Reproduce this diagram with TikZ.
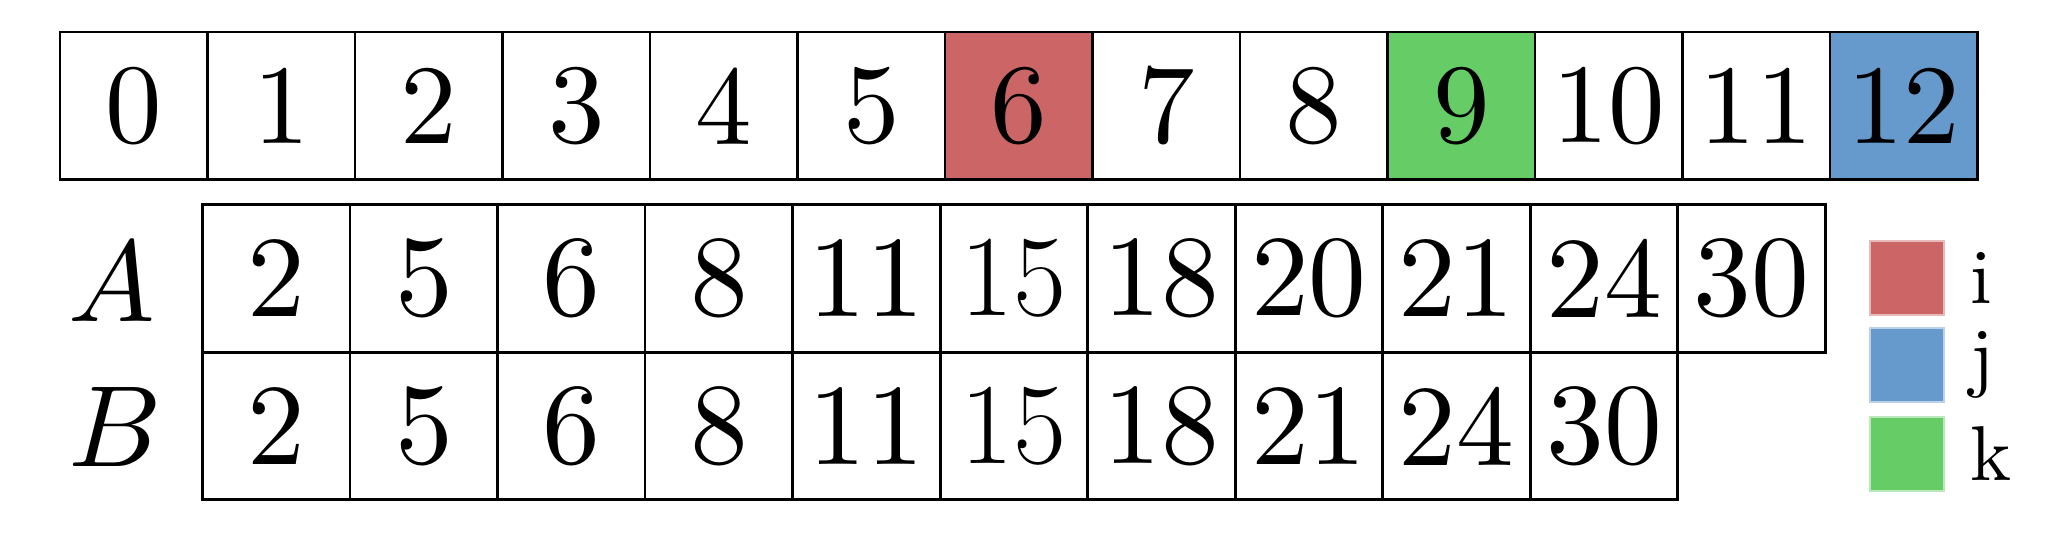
\documentclass[tikz,border=0pt]{standalone}
\usepackage{graphicx}
\definecolor{cred}{RGB}{204,102,102}
\definecolor{cblue}{RGB}{102,153,204}
\definecolor{cgreen}{RGB}{102,204,102}
\newcommand{\topnumtxt}[1]{\scalebox{2.18}{\fontsize{10}{12}\selectfont #1}}
\newcommand{\lownumtxt}[1]{\ifnum#1=15 {\fontsize{22.3}{27}\selectfont #1}\else\scalebox{2.23}{\fontsize{10}{12}\selectfont #1}\fi}
\newcommand{\biglabel}[1]{\scalebox{2.23}{\fontsize{10}{12}\selectfont $#1$}}
\newcommand{\legtxt}[1]{\scalebox{1.5}{\fontsize{10}{12}\selectfont #1}}
\begin{document}
\begin{tikzpicture}[x=1cm,y=1cm,
  cellbox/.style={draw=black, line width=0.5pt, minimum width=1cm, minimum height=1cm, inner sep=0pt, outer sep=0pt, anchor=south west},
  rowlabel/.style={inner sep=0pt},
  legbox/.style={minimum size=0.5cm, inner sep=0pt, outer sep=0pt, line width=0.3pt},
  leglabel/.style={anchor=west, inner sep=5pt}]
\useasboundingbox (0,0) rectangle (13.986,3.654);
% index row
\foreach \n/\c in {0/white,1/white,2/white,3/white,4/white,5/white,6/cred,7/white,8/white,9/cgreen,10/white,11/white,12/cblue}
  \node[cellbox, fill=\c] (t\n) at (0.407+\n, 2.437) {\topnumtxt{\n}};
% row A
\foreach \v [count=\i from 0] in {2,5,6,8,11,15,18,20,21,24,30}
  \node[cellbox] (a\i) at (1.374+\i, 1.266) {\lownumtxt{\v}};
% row B
\foreach \v [count=\i from 0] in {2,5,6,8,11,15,18,21,24,30}
  \node[cellbox] (b\i) at (1.374+\i, 0.266) {\lownumtxt{\v}};
% row labels
\node[rowlabel] (la) at (0.76, 1.745) {\biglabel{A}};
\node[rowlabel] (lb) at (0.78, 0.76) {\biglabel{B}};
% legend
\node[legbox, fill=cred, draw=cred!45] (li) at (12.929, 1.770) {};
\node[legbox, fill=cblue, draw=cblue!45] (lj) at (12.929, 1.180) {};
\node[legbox, fill=cgreen, draw=cgreen!45] (lk) at (12.929, 0.577) {};
\node[leglabel] (ti) at (li.east) {\legtxt{i}};
\node[leglabel] (tj) at (lj.east) {\legtxt{j}};
\node[leglabel] (tk) at (lk.east) {\legtxt{k}};
\end{tikzpicture}
\end{document}
